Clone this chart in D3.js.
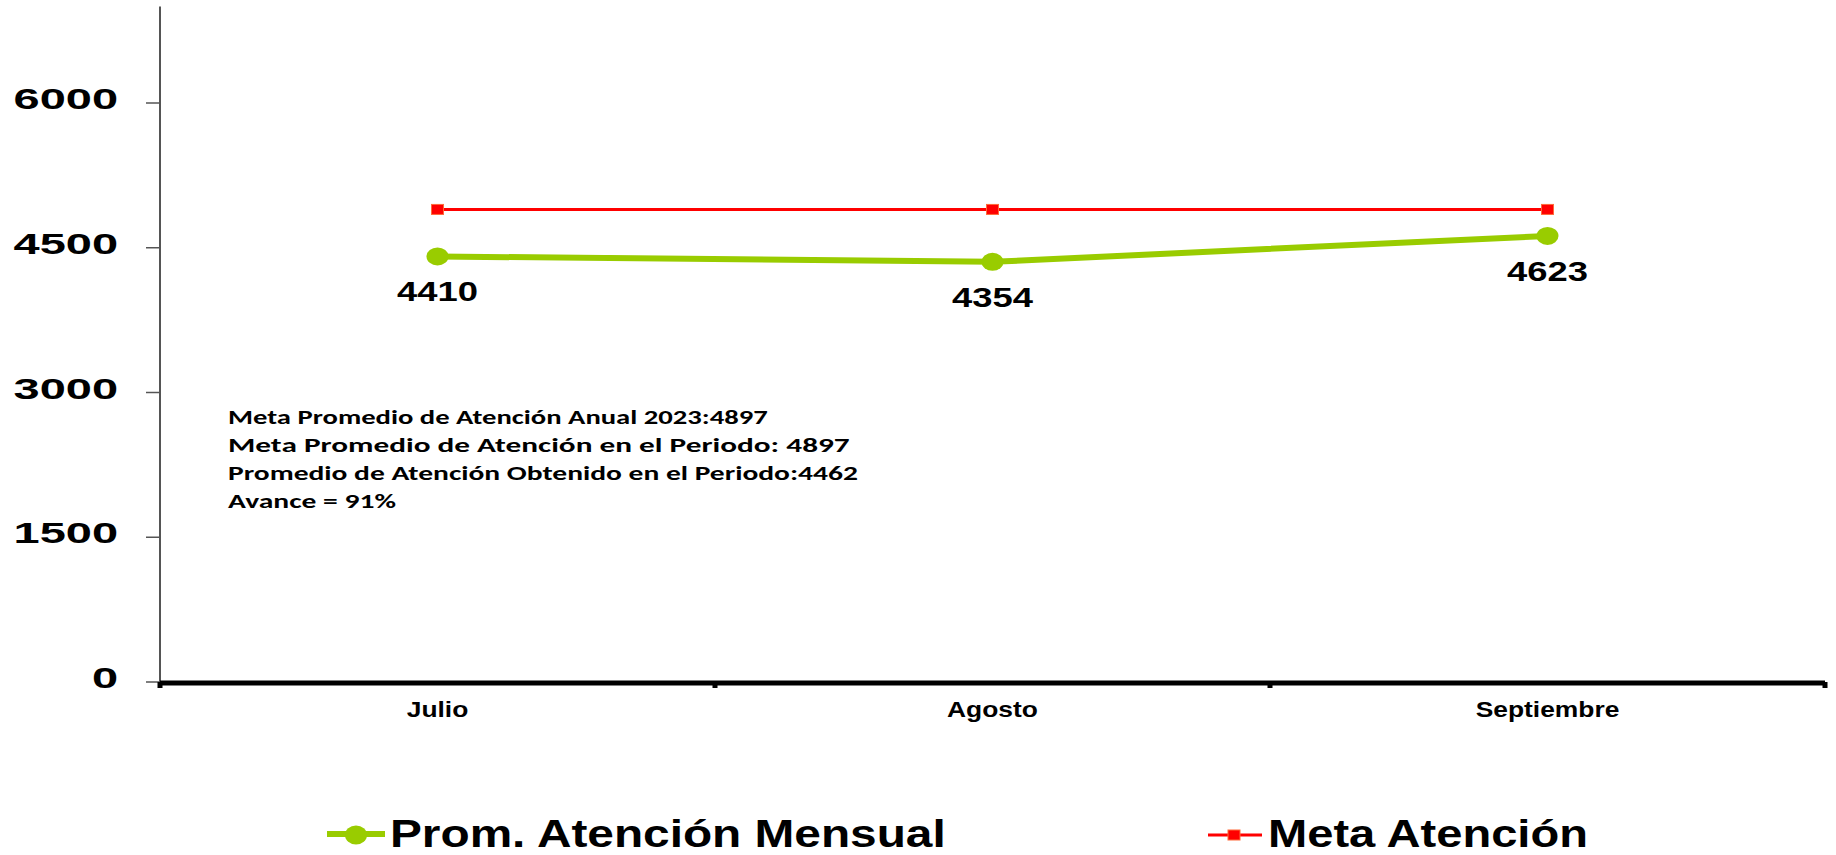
<!DOCTYPE html>
<html><head><meta charset="utf-8">
<script src="https://cdn.jsdelivr.net/npm/d3@7"></script>
<style>
html,body{margin:0;padding:0;background:#fff;}
svg{display:block;}
text{font-family:"Liberation Sans",Arial,sans-serif;font-weight:bold;fill:#000;}
.note{font-family:Carlito,Calibri,Lato,"Open Sans",sans-serif;font-weight:bold;}
</style></head><body>
<svg id="c" width="1836" height="855"></svg>
<script>
const categories = ["Julio", "Agosto", "Septiembre"];
const promValues = [4410, 4354, 4623];
const metaValues = [4897, 4897, 4897];
const yTicks = [0, 1500, 3000, 4500, 6000];
const seriesNames = ["Prom. Atención Mensual", "Meta Atención"];
const noteLines = [
  "Meta Promedio de Atención Anual 2023:4897",
  "Meta Promedio de Atención en el Periodo: 4897",
  "Promedio de Atención Obtenido en el Periodo:4462",
  "Avance = 91%"
];

(function () {
const svg = d3.select("#c");
const plotLeft = 160, plotRight = 1825, plotBottom = 682;
const x = d3.scaleBand().domain(categories).range([plotLeft, plotRight]).paddingInner(0).paddingOuter(0);
const y = d3.scaleLinear().domain([0, 7000]).range([plotBottom, plotBottom - 579 * 7000 / 6000]);
const cx = d => x(d) + x.bandwidth() / 2;

function stext(g, tx, ty, str, size, sx, anchor, cls) {
  const t = g.append("text")
    .attr("transform", `translate(${tx},${ty}) scale(${sx},1)`)
    .attr("text-anchor", anchor || "start")
    .style("font-size", size + "px")
    .text(str);
  if (cls) t.attr("class", cls);
  return t;
}
function fitWidth(t, tx, ty, w) {
  const s = w / t.node().getComputedTextLength();
  t.attr("transform", `translate(${tx},${ty}) scale(${s},1)`);
}

// Y axis
const yAxis = svg.append("g");
yAxis.append("line").attr("x1", plotLeft).attr("x2", plotLeft).attr("y1", y(7000)).attr("y2", plotBottom)
  .attr("stroke", "#555").attr("stroke-width", 2);
yTicks.forEach(v => {
  yAxis.append("line").attr("x1", plotLeft - 14).attr("x2", plotLeft).attr("y1", y(v)).attr("y2", y(v))
    .attr("stroke", "#555").attr("stroke-width", 1.5);
  stext(yAxis, 118, y(v) + 6, String(v), 29, 1.62, "end");
});

// X axis
const xAxis = svg.append("g");
xAxis.append("line").attr("x1", plotLeft).attr("x2", plotRight).attr("y1", plotBottom + 1).attr("y2", plotBottom + 1)
  .attr("stroke", "#000").attr("stroke-width", 5);
const bounds = categories.map(c => x(c)).concat([plotRight]);
bounds.forEach(b => {
  xAxis.append("rect").attr("x", b - 2.5).attr("y", plotBottom).attr("width", 5).attr("height", 6).attr("fill", "#000");
});
categories.forEach(c => {
  stext(xAxis, cx(c), 717, c, 22, 1.2, "middle");
});

const lineGen = d3.line().x(d => cx(d.c)).y(d => y(d.v));
const metaData = categories.map((c, i) => ({c, v: metaValues[i]}));
const promData = categories.map((c, i) => ({c, v: promValues[i]}));

// Meta line
svg.append("path").datum(metaData).attr("d", lineGen).attr("fill", "none")
  .attr("stroke", "#FF0000").attr("stroke-width", 3);
svg.selectAll(".metaPt").data(metaData).enter().append("rect")
  .attr("x", d => cx(d.c) - 6).attr("y", d => y(d.v) - 5).attr("width", 12).attr("height", 10)
  .attr("fill", "#FF0000").attr("stroke", "#FF6A3A").attr("stroke-width", 1);

// Prom line
svg.append("path").datum(promData).attr("d", lineGen).attr("fill", "none")
  .attr("stroke", "#99CC00").attr("stroke-width", 6);
svg.selectAll(".promPt").data(promData).enter().append("ellipse")
  .attr("cx", d => cx(d.c)).attr("cy", d => y(d.v)).attr("rx", 11).attr("ry", 9)
  .attr("fill", "#99CC00");
promData.forEach(d => {
  stext(svg, cx(d.c), y(d.v) + 45, String(d.v), 28, 1.3, "middle");
});

// Note text
const noteG = svg.append("g");
const noteWidths = [540, 622, 630, 168];
noteLines.forEach((s, i) => {
  const t = stext(noteG, 228, 424 + i * 28, s, 21, 1, "start", "note");
  fitWidth(t, 228, 424 + i * 28, noteWidths[i]);
});

// Legend
const lg = svg.append("g");
lg.append("line").attr("x1", 327).attr("x2", 385).attr("y1", 834).attr("y2", 834)
  .attr("stroke", "#99CC00").attr("stroke-width", 6);
lg.append("ellipse").attr("cx", 356).attr("cy", 835).attr("rx", 11).attr("ry", 9.5).attr("fill", "#99CC00");
const t1 = stext(lg, 390, 847, seriesNames[0], 38, 1, "start");
fitWidth(t1, 390, 847, 556);

lg.append("line").attr("x1", 1208).attr("x2", 1262).attr("y1", 835).attr("y2", 835)
  .attr("stroke", "#FF0000").attr("stroke-width", 3);
lg.append("rect").attr("x", 1228).attr("y", 830).attr("width", 12).attr("height", 10)
  .attr("fill", "#FF0000").attr("stroke", "#FF6A3A").attr("stroke-width", 1);
const t2 = stext(lg, 1268, 847, seriesNames[1], 38, 1, "start");
fitWidth(t2, 1268, 847, 320);
})();
</script>
</body></html>
